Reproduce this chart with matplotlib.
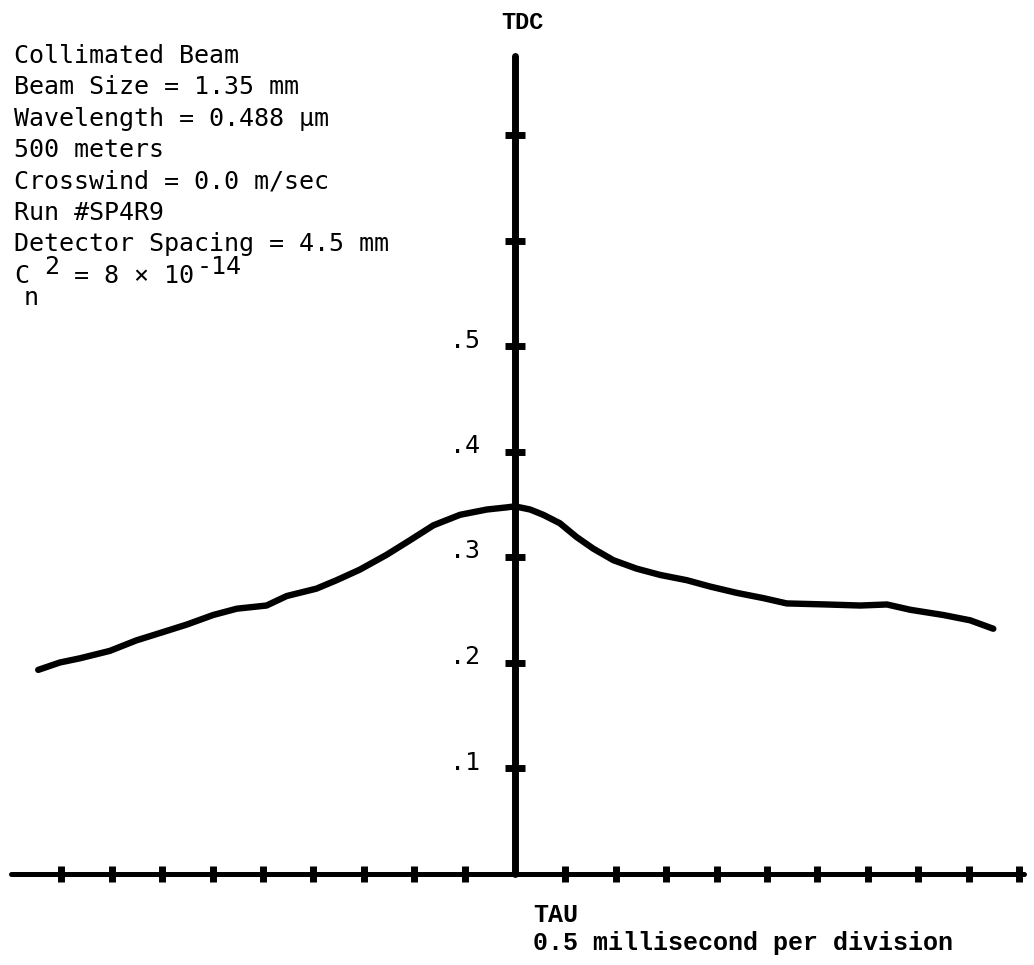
import matplotlib.pyplot as plt
from matplotlib.transforms import ScaledTranslation

# curve (tau in divisions, TDC value)
tau = [-9.46, -9.03, -8.63, -8.04, -7.51, -7.04, -6.51, -5.99, -5.52, -4.93,
       -4.53, -3.94, -3.54, -3.08, -2.55, -2.08, -1.62, -1.09, -0.56, -0.17,
       0.0, 0.30, 0.56, 0.89, 1.22, 1.55, 1.95, 2.41, 2.88, 3.41,
       3.87, 4.40, 4.93, 5.39, 6.18, 6.85, 7.38, 7.84, 8.50, 9.03, 9.49]
tdc = [0.193, 0.200, 0.204, 0.211, 0.221, 0.228, 0.236, 0.245, 0.251, 0.254,
       0.263, 0.270, 0.278, 0.288, 0.302, 0.316, 0.330, 0.340, 0.345, 0.347,
       0.348, 0.345, 0.340, 0.332, 0.319, 0.308, 0.297, 0.289, 0.283, 0.278,
       0.272, 0.266, 0.261, 0.256, 0.255, 0.254, 0.255, 0.250, 0.245, 0.240, 0.232]

xticks = [-9, -8, -7, -6, -5, -4, -3, -2, -1, 1, 2, 3, 4, 5, 6, 7, 8, 9, 10]
yticks = [0.1, 0.2, 0.3, 0.4, 0.5, 0.6, 0.7]
ylabels = [".1", ".2", ".3", ".4", ".5", "", ""]

info = ["Collimated Beam",
        "Beam Size = 1.35 mm",
        "Wavelength = 0.488 µm",
        "500 meters",
        "Crosswind = 0.0 m/sec",
        "Run #SP4R9",
        "Detector Spacing = 4.5 mm"]

W, H = 1034, 965
fig = plt.figure(figsize=(W / 100, H / 100), dpi=100)
ax = fig.add_axes([0, 0, 1, 1])

ax.plot(tau, tdc, color="black", lw=4.6, solid_capstyle="round", solid_joinstyle="round")

ax.set_xlim(-515 / 50.4, (W - 515) / 50.4)
ax.set_ylim((873.5 - H) / 1055, 873.5 / 1055)

for s in ["top", "right"]:
    ax.spines[s].set_visible(False)
ax.spines["left"].set_position(("data", 0))
ax.spines["bottom"].set_position(("data", 0))
ax.spines["left"].set_bounds(0, 0.775)
ax.spines["bottom"].set_bounds(-10, 10.1)
ax.spines["left"].set_linewidth(5)
ax.spines["bottom"].set_linewidth(3.6)
ax.spines["left"].set_capstyle("round")
ax.spines["bottom"].set_capstyle("round")

ax.set_xticks(xticks)
ax.set_xticklabels([])
ax.tick_params(axis="x", direction="inout", length=11, width=5)
ax.set_yticks(yticks)
ax.set_yticklabels(ylabels, fontfamily="DejaVu Sans Mono", fontsize=18)
ax.tick_params(axis="y", direction="inout", length=14, width=5, pad=18)
shift = ScaledTranslation(0, 8 / 100, fig.dpi_scale_trans)
for lab in ax.get_yticklabels():
    lab.set_transform(lab.get_transform() + shift)


def px(x, y):
    return x / W, 1 - y / H


mono = "DejaVu Sans Mono"
for i, line in enumerate(info):
    fig.text(*px(14, 63 + i * 31.4), line, fontfamily=mono, fontsize=18, va="baseline")

# C_n^2 = 8 x 10^-14 line
cw = 15.1
fig.text(*px(14, 283), "C", fontfamily=mono, fontsize=18, va="baseline")
fig.text(*px(14 + 2 * cw, 274), "2", fontfamily=mono, fontsize=18, va="baseline")
fig.text(*px(14 + 4 * cw, 283), "= 8 × 10", fontfamily=mono, fontsize=18, va="baseline")
fig.text(*px(15 + 12 * cw, 274), "-14", fontfamily=mono, fontsize=18, va="baseline")
fig.text(*px(24, 305), "n", fontfamily=mono, fontsize=18, va="baseline")

serif_mono = "Liberation Mono"
fig.text(*px(522, 29), "TDC", fontfamily=serif_mono, fontsize=17, fontweight="bold",
         ha="center", va="baseline")
fig.text(*px(533, 922), "TAU", fontfamily=serif_mono, fontsize=18, fontweight="bold",
         va="baseline")
fig.text(*px(533, 950), "0.5 millisecond per division", fontfamily=serif_mono,
         fontsize=18, fontweight="bold", va="baseline")

fig.savefig("out.png", dpi=100, facecolor="white")
